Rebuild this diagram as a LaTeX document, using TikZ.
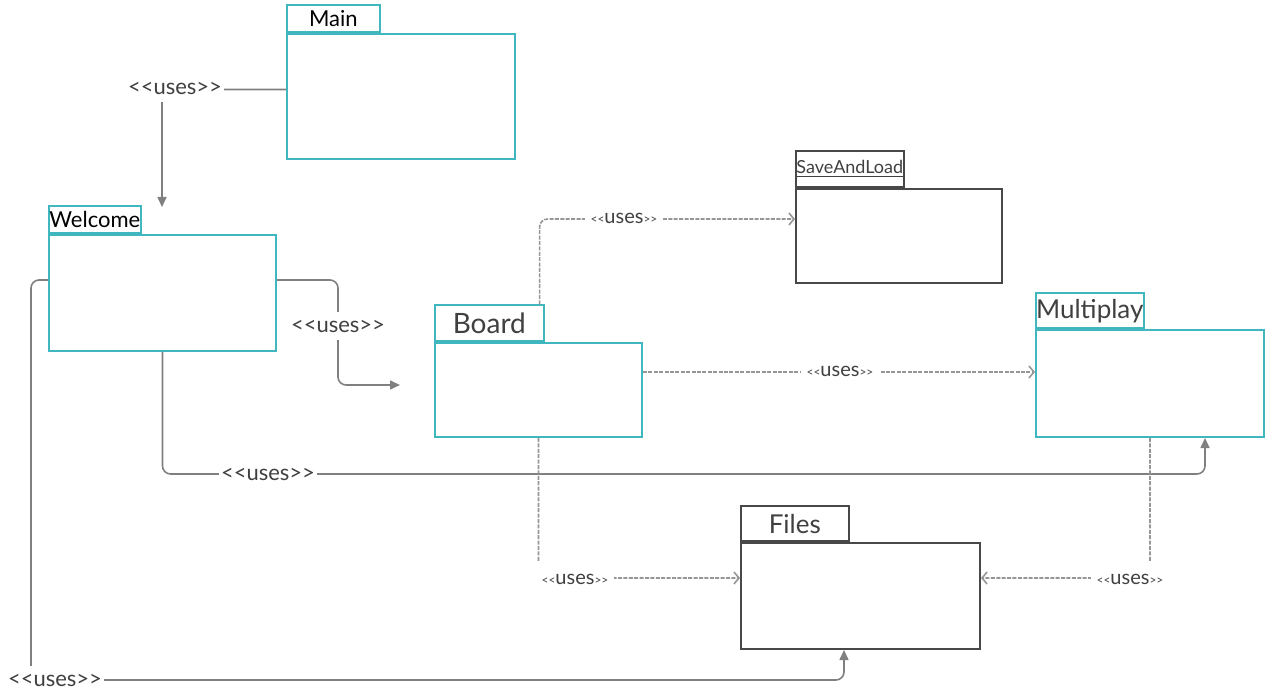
\documentclass[tikz,border=0pt]{standalone}
\usepackage{fontspec}
\setmainfont{Lato}
\usetikzlibrary{arrows.meta}

\definecolor{pkgline}{RGB}{64,182,190}
\definecolor{darkline}{RGB}{72,72,72}
\definecolor{usesline}{RGB}{128,128,128}
\definecolor{dashline}{RGB}{150,150,150}
\definecolor{pkgtext}{RGB}{64,64,64}

\tikzset{
  body/.style={draw=pkgline, line width=1pt, anchor=north west, inner sep=0pt},
  tab/.style={draw=pkgline, line width=0.8pt, anchor=south west, inner sep=0pt, text=pkgtext},
  dark/.style={draw=darkline},
  uses/.style={draw=usesline, line width=0.8pt, rounded corners=4pt, -{Triangle[length=5pt,width=4.5pt]}},
  usesdash/.style={draw=dashline, line width=0.8pt, dash pattern=on 2pt off 0.7pt, rounded corners=4pt, -{Straight Barb[length=2.5pt,width=6pt]}},
  lbl/.style={fill=white, inner xsep=1pt, inner ysep=4pt, text=pkgtext, font=\fontsize{11}{13}\selectfont},
  dlbl/.style={fill=white, inner xsep=3pt, inner ysep=6pt, text=pkgtext, font=\fontsize{10}{12}\selectfont},
}
\newcommand{\ang}[1]{{\fontsize{6}{6}\selectfont#1}}

\begin{document}
\begin{tikzpicture}[x=0.5pt, y=-0.5pt]
  \useasboundingbox (0,0) rectangle (1280,695);

  % packages
  \node [body, minimum width=114pt, minimum height=62.5pt] (main) at (286,33) {};
  \node [tab, minimum width=46.5pt, minimum height=13.5pt, text=black, font=\fontsize{11}{13}\selectfont] (maintab) at (main.north west) {Main};

  \node [body, minimum width=113.5pt, minimum height=58pt] (welcome) at (48,234) {};
  \node [tab, minimum width=46pt, minimum height=13.5pt, text=black, font=\fontsize{11}{13}\selectfont] (welcometab) at (welcome.north west) {Welcome};

  \node [body, minimum width=103.5pt, minimum height=47pt] (board) at (434,342) {};
  \node [tab, minimum width=54.5pt, minimum height=18pt, font=\fontsize{14}{16}\selectfont] (boardtab) at (board.north west) {Board};

  \node [body, dark, minimum width=103pt, minimum height=47pt] (saveload) at (795,188) {};
  \node [tab, dark, minimum width=54pt, minimum height=18pt, font=\fontsize{9}{11}\selectfont] (saveloadtab) at (saveload.north west) {\underline{SaveAndLoad}};

  \node [body, minimum width=114pt, minimum height=53.5pt] (multiplay) at (1035,329) {};
  \node [tab, minimum width=54pt, minimum height=17.5pt, font=\fontsize{13}{15}\selectfont] (multiplaytab) at (multiplay.north west) {Multiplay};

  \node [body, dark, minimum width=119.5pt, minimum height=53pt] (files) at (740,542) {};
  \node [tab, dark, minimum width=54pt, minimum height=17.5pt, font=\fontsize{13}{15}\selectfont] (filestab) at (files.north west) {Files};

  % solid uses
  \coordinate (welcomein) at (162,207);
  \coordinate (boardin) at (400,385);
  \draw [uses] ([yshift=3.5pt]main.west) -| (welcomein);
  \draw [uses] ([yshift=6.5pt]welcome.east) -| (338,330) |- (boardin);
  \draw [uses] (welcome.south) |- (600,474) -| ([xshift=27.5pt]multiplay.south);
  \draw [uses] ([yshift=6.5pt]welcome.west) -| (31,600) |- (600,680) -| ([xshift=-8.25pt]files.south);

  \node [lbl] (usesmain) at (175,88) {<{}<uses>{}>};
  \node [lbl] (usesboard) at (338,326) {<{}<uses>{}>};
  \node [lbl] (usesmulti) at (268,474) {<{}<uses>{}>};
  \node [lbl] (usesfiles) at (55,680) {<{}<uses>{}>};

  % dashed uses
  \draw [usesdash] ([xshift=-2.5pt]boardtab.north east) |- ([yshift=8.5pt]saveload.west);
  \draw [usesdash] ([yshift=9pt]board.east) -- ([yshift=9pt]board.east -| multiplay.west);
  \draw [usesdash] (board.south) |- ([yshift=9pt]files.west);
  \draw [usesdash] (multiplay.south) |- ([yshift=9pt]files.east);

  \node [dlbl] (usessave) at (624,218) {\ang{<{}<}uses\ang{>{}>}};
  \node [dlbl] (usesplay) at (840,371) {\ang{<{}<}uses\ang{>{}>}};
  \node [dlbl] (usesleft) at (575,579) {\ang{<{}<}uses\ang{>{}>}};
  \node [dlbl] (usesright) at (1130,579) {\ang{<{}<}uses\ang{>{}>}};
\end{tikzpicture}
\end{document}
